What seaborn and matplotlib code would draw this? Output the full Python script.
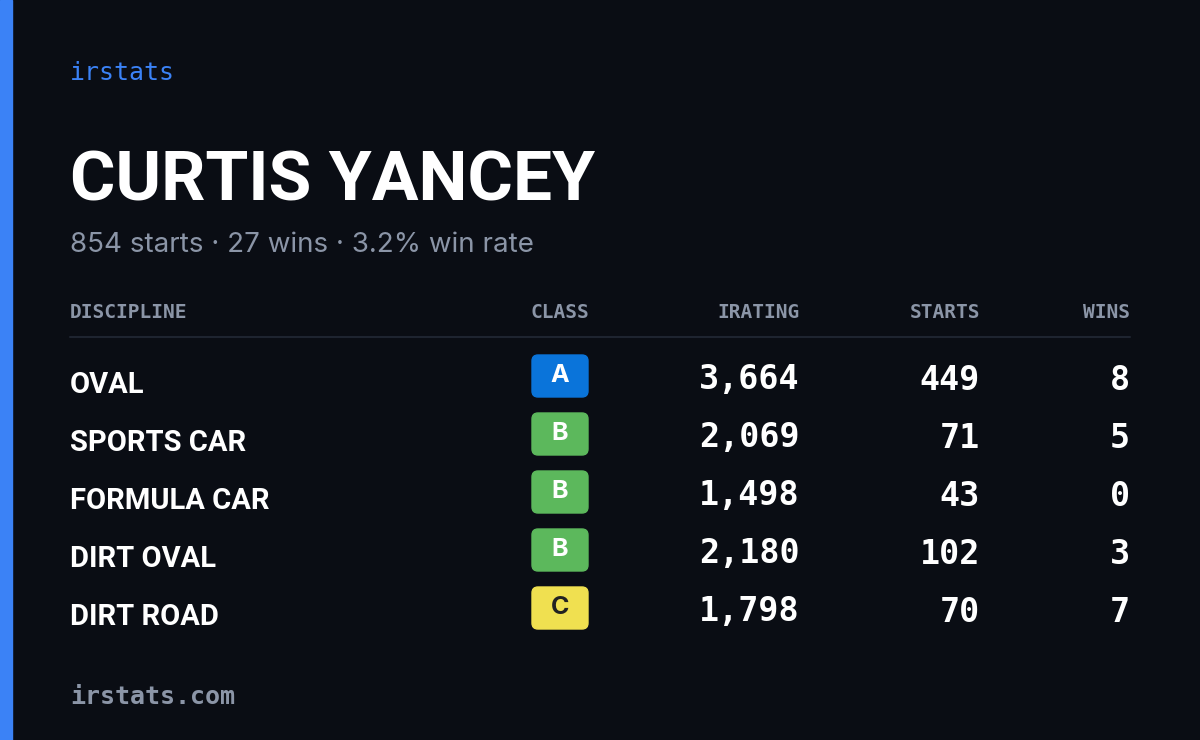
import matplotlib
matplotlib.use("Agg")
import matplotlib.pyplot as plt
from matplotlib.patches import FancyBboxPatch, Rectangle
import seaborn as sns

brand = "irstats"
driver = "CURTIS YANCEY"
subtitle = "854 starts · 27 wins · 3.2% win rate"
headers = ["DISCIPLINE", "CLASS", "IRATING", "STARTS", "WINS"]
disciplines = ["OVAL", "SPORTS CAR", "FORMULA CAR", "DIRT OVAL", "DIRT ROAD"]
classes = ["A", "B", "B", "B", "C"]
iratings = [3664, 2069, 1498, 2180, 1798]
starts = [449, 71, 43, 102, 70]
wins = [8, 5, 0, 3, 7]
footer = "irstats.com"

class_colors = {"A": "#0a74da", "B": "#5cb85c", "C": "#f0e050"}
class_text = {"A": "white", "B": "white", "C": "#222222"}

sns.set_theme(style="dark")
bg = "#0a0d14"
gray = "#8b95a7"
cond = ["Roboto", "DejaVu Sans"]
mono = ["DejaVu Sans Mono"]

fig = plt.figure(figsize=(12, 7.4), dpi=100, facecolor=bg)
ax = fig.add_axes([0, 0, 1, 1])
ax.set_facecolor(bg)
ax.set_xlim(0, 1200)
ax.set_ylim(740, 0)
ax.axis("off")

ax.add_patch(Rectangle((0, 0), 12, 740, color="#3b82f6"))
ax.text(70, 73, brand, color="#3b82f6", fontsize=18, family=mono, va="center")
ax.text(70, 182, driver, color="white", fontsize=50, family=cond, weight="bold", va="center")
ax.text(70, 245, subtitle, color=gray, fontsize=20, family=["Inter", "DejaVu Sans"], va="center")

hx = [70, 560, 800, 980, 1130]
ha = ["left", "center", "right", "right", "right"]
for h, x, a in zip(headers, hx, ha):
    ax.text(x, 313, h, color=gray, fontsize=14, family=mono, weight="bold", ha=a, va="center")
ax.plot([70, 1130], [337, 337], color="#1e2430", lw=1.5)

for i, (d, c, r, s, w) in enumerate(zip(disciplines, classes, iratings, starts, wins)):
    y = 380 + 58 * i
    ax.text(70, y + 5, d, color="white", fontsize=21, family=cond, weight="bold", va="center")
    ax.add_patch(FancyBboxPatch((532 + 6, y - 25 + 6), 56 - 12, 42 - 12,
                                boxstyle="round,pad=6", color=class_colors[c]))
    ax.text(560, y - 4, c, color=class_text[c], fontsize=18, weight="bold",
            family=["Inter", "DejaVu Sans"], ha="center", va="center")
    for val, x in zip([f"{r:,}", str(s), str(w)], hx[2:]):
        ax.text(x, y, val, color="white", fontsize=24, family=mono, weight="bold",
                ha="right", va="center")

ax.text(70, 697, footer, color=gray, fontsize=18, family=mono, weight="bold", va="center")
fig.savefig("out.png", dpi=100, facecolor=bg)
